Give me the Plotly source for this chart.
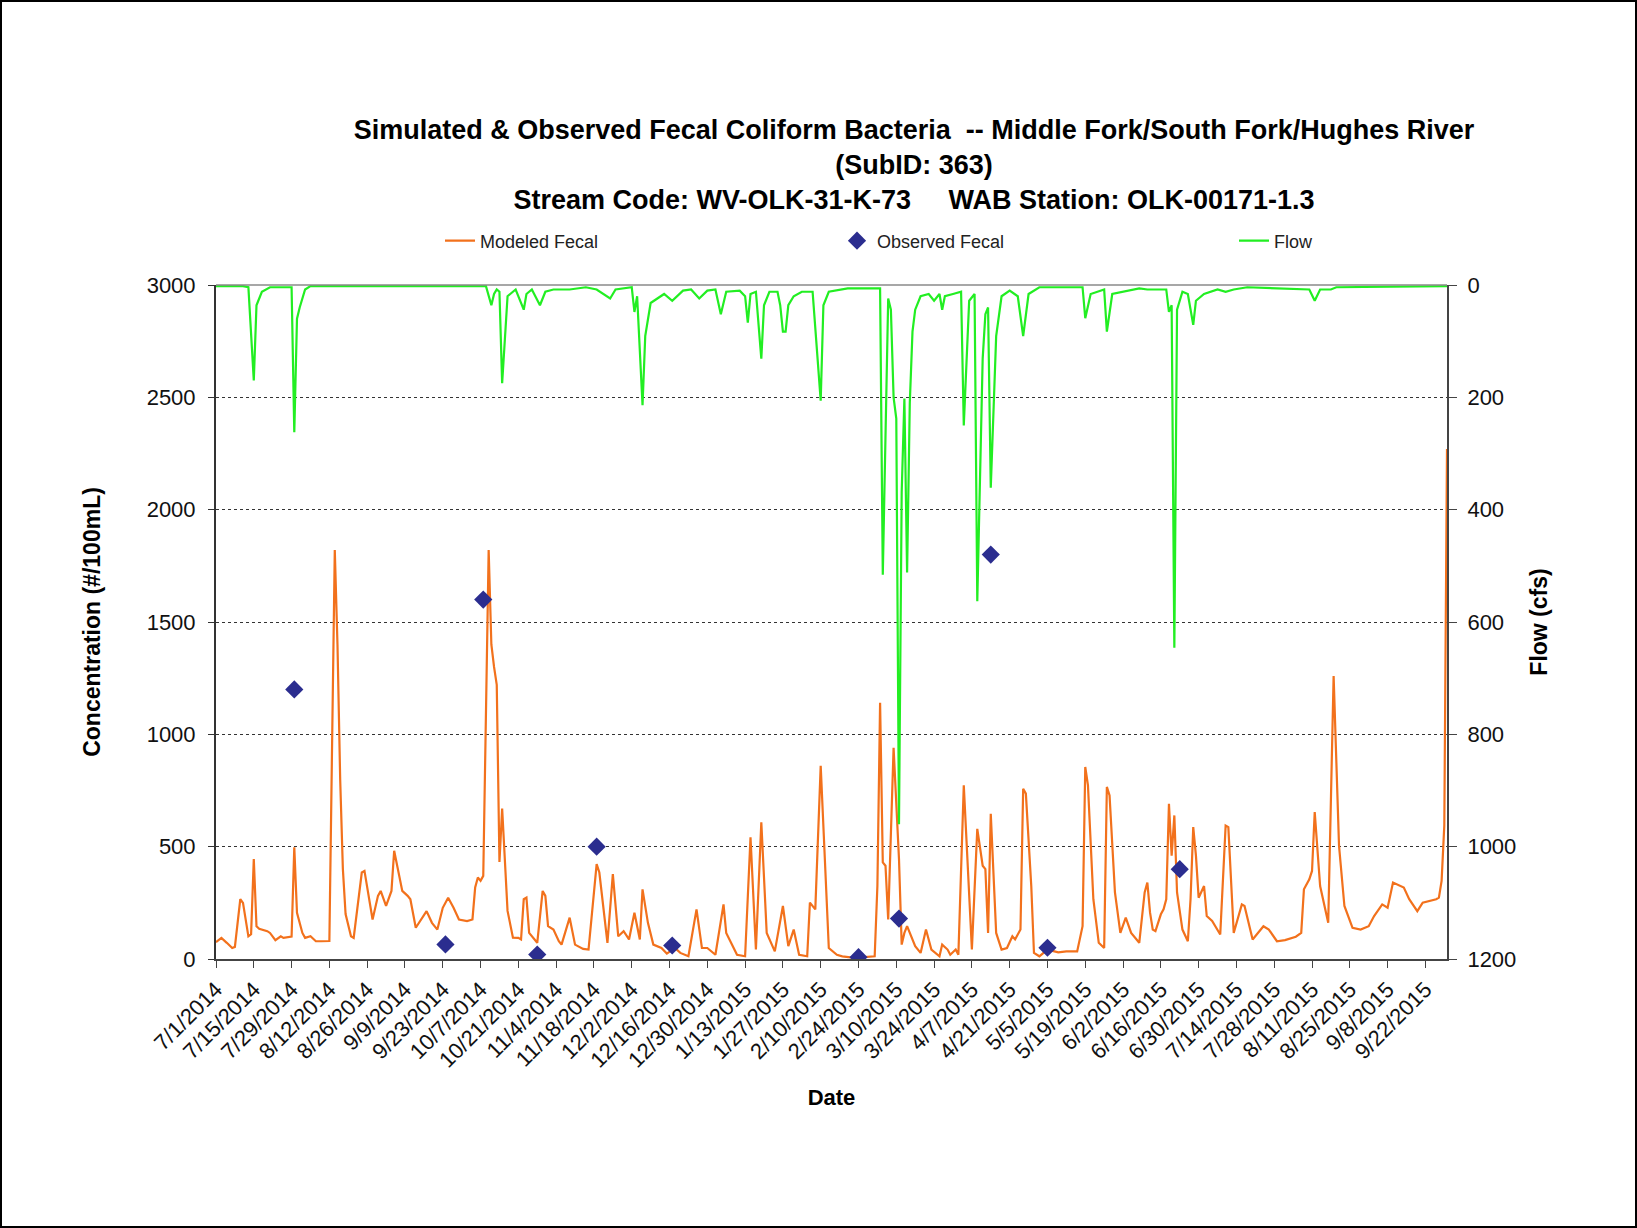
import pandas as pd
import plotly.graph_objects as go

START = pd.Timestamp("2014-07-01")

# Modeled fecal coliform (#/100mL); days counted from 7/1/2014
fecal_day = [
    0, 2, 4, 6, 7, 9, 10, 12, 13, 14,
    15, 16, 19, 20, 22, 24, 25, 27, 28, 29,
    30, 32, 33, 35, 37, 39, 42, 44, 45, 46,
    47, 48, 50, 51, 54, 55, 58, 60, 61, 63,
    65, 66, 69, 71, 72, 74, 78, 80, 82, 84,
    86, 88, 90, 93, 95, 96, 97, 98, 99, 101,
    102, 103, 104, 105, 106, 108, 110, 112, 113, 114,
    115, 116, 118, 119, 121, 122, 123, 125, 127, 128,
    131, 133, 136, 138, 141, 142, 145, 147, 149, 151,
    153, 155, 157, 158, 160, 162, 165, 167, 170, 172,
    175, 176, 178, 180, 182, 185, 188, 189, 193, 196,
    198, 200, 202, 204, 207, 210, 212, 214, 216, 219,
    220, 222, 224, 227, 230, 232, 235, 239, 244, 245,
    246, 247, 248, 249, 251, 253, 254, 255, 256, 259,
    261, 263, 265, 268, 269, 271, 272, 274, 275, 277,
    279, 280, 282, 284, 285, 286, 287, 289, 291, 293,
    295, 296, 298, 299, 300, 302, 303, 305, 308, 312,
    315, 319, 321, 322, 323, 325, 327, 329, 330, 331,
    333, 335, 337, 339, 342, 344, 345, 346, 347, 348,
    350, 351, 352, 353, 354, 355, 356, 358, 360, 361,
    362, 363, 364, 366, 367, 369, 372, 374, 375, 377,
    380, 381, 384, 388, 390, 393, 396, 400, 402, 403,
    405, 406, 407, 409, 412, 414, 416, 418, 421, 424,
    427, 429, 432, 434, 436, 440, 442, 445, 447, 450,
    452, 453, 454, 455, 456,
]
fecal_value = [
    75, 94, 72, 49, 54, 266, 250, 101, 110, 445,
    146, 134, 124, 116, 84, 101, 94, 99, 100, 497,
    206, 116, 94, 101, 79, 79, 80, 1820, 1400, 800,
    400, 200, 101, 94, 385, 392, 176, 281, 303, 236,
    303, 482, 303, 281, 266, 139, 213, 161, 131, 228,
    273, 228, 176, 169, 176, 318, 363, 348, 370, 1820,
    1400, 1300, 1220, 432, 670, 214, 95, 94, 87, 266,
    273, 116, 87, 72, 303, 281, 146, 131, 79, 64,
    184, 64, 45, 42, 422, 385, 72, 378, 101, 124,
    87, 206, 87, 310, 161, 64, 49, 24, 49, 27,
    12, 87, 221, 49, 49, 19, 243, 116, 19, 12,
    542, 42, 609, 116, 34, 236, 57, 131, 19, 12,
    251, 221, 860, 49, 19, 12, 7, 7, 12, 325,
    1140, 430, 415, 176, 940, 445, 64, 116, 146, 57,
    27, 131, 42, 12, 64, 42, 19, 42, 19, 773,
    266, 42, 579, 415, 400, 116, 646, 116, 42, 49,
    101, 87, 131, 758, 736, 325, 27, 12, 42, 30,
    34, 34, 146, 855, 773, 266, 72, 49, 766, 728,
    296, 116, 184, 116, 72, 296, 340, 206, 131, 124,
    199, 221, 266, 691, 460, 639, 296, 131, 79, 266,
    587, 460, 273, 325, 191, 169, 109, 594, 587, 116,
    243, 236, 87, 146, 131, 79, 84, 99, 116, 310,
    355, 392, 654, 325, 161, 1260, 504, 236, 139, 131,
    146, 191, 243, 228, 340, 318, 266, 213, 251, 258,
    266, 273, 348, 594, 2270,
]

# Observed fecal coliform samples
obs_day = [29, 85, 99, 119, 141, 169, 238, 253, 287, 308, 357]
obs_value = [1200, 65, 1600, 20, 500, 60, 8, 180, 1800, 50, 400]

# Flow (cfs)
flow_day = [
    0, 10, 12, 14, 15, 17, 20, 27, 28, 29,
    30, 31, 33, 35, 60, 100, 102, 103, 104, 105,
    106, 108, 111, 114, 115, 117, 120, 122, 125, 131,
    137, 141, 146, 148, 154, 155, 156, 158, 159, 161,
    166, 169, 173, 176, 179, 182, 185, 187, 189, 194,
    196, 197, 198, 200, 202, 203, 205, 208, 209, 210,
    211, 212, 214, 217, 221, 224, 225, 227, 234, 246,
    247, 249, 250, 251, 252, 253, 254, 255, 256, 257,
    258, 259, 261, 264, 266, 268, 269, 270, 273, 276,
    277, 279, 281, 282, 284, 285, 286, 287, 289, 291,
    294, 297, 299, 301, 305, 317, 321, 322, 324, 329,
    330, 332, 342, 345, 352, 353, 354, 355, 356, 358,
    360, 362, 363, 366, 371, 374, 377, 382, 405, 407,
    409, 413, 415, 456,
]
flow_value = [
    2, 2, 4, 170, 36, 12, 4, 3, 4, 262,
    60, 40, 8, 2, 2, 2, 36, 16, 8, 12,
    175, 20, 8, 44, 16, 8, 36, 12, 8, 8,
    4, 8, 24, 8, 4, 48, 20, 214, 91, 32,
    16, 28, 10, 8, 24, 10, 8, 52, 12, 10,
    20, 67, 16, 12, 131, 36, 12, 12, 36, 83,
    83, 36, 20, 12, 12, 206, 36, 12, 6, 6,
    516, 24, 44, 200, 238, 960, 369, 202, 512, 210,
    83, 44, 20, 16, 28, 16, 44, 20, 16, 12,
    250, 28, 16, 563, 131, 52, 40, 361, 91, 20,
    10, 20, 91, 16, 4, 4, 4, 59, 16, 8,
    83, 16, 6, 8, 8, 48, 36, 646, 44, 12,
    16, 71, 28, 16, 8, 12, 8, 4, 8, 28,
    8, 8, 4, 2,
]


def to_dates(days):
    return START + pd.to_timedelta(days, unit="D")


FONT = "Liberation Sans, Arial, sans-serif"

# Layout geometry (pixels)
W, H = 1637, 1228
ML, MR, MT, MB = 216, 190, 285, 269
PW, PH = W - ML - MR, H - MT - MB

fig = go.Figure()
fig.add_trace(go.Scatter(
    x=to_dates(fecal_day), y=fecal_value, name="Modeled Fecal",
    mode="lines", line=dict(color="#F2711C", width=2.2), yaxis="y",
))
fig.add_trace(go.Scatter(
    x=to_dates(obs_day), y=obs_value, name="Observed Fecal",
    mode="markers", marker=dict(symbol="diamond", size=14, color="#2B2D8F"),
    yaxis="y",
))
fig.add_trace(go.Scatter(
    x=to_dates(flow_day), y=flow_value, name="Flow",
    mode="lines", line=dict(color="#22EE22", width=2.2), yaxis="y2",
))


def px_x(p):
    return (p - ML) / PW


def px_y(p):
    return (H - MB - p) / PH


fig.update_layout(
    width=W, height=H,
    margin=dict(l=ML, r=MR, t=MT, b=MB, autoexpand=False),
    paper_bgcolor="white", plot_bgcolor="white",
    font=dict(family=FONT, color="#111111"),
    title=dict(
        text=("<b>Simulated & Observed Fecal Coliform Bacteria&nbsp;&nbsp;-- Middle Fork/South Fork/Hughes River</b>"
              "<br><b>(SubID: 363)</b>"
              "<br><b>Stream Code: WV-OLK-31-K-73&nbsp;&nbsp;&nbsp;&nbsp;&nbsp;WAB Station: OLK-00171-1.3</b>"),
        font=dict(family=FONT, size=27, color="#000000"),
        x=914 / W, xref="container", xanchor="center",
        y=1 - 139 / H, yref="container", yanchor="middle",
    ),
    legend=dict(
        orientation="h", x=px_x(440), xanchor="left", y=px_y(241), yanchor="middle",
        entrywidth=352, entrywidthmode="pixels",
        font=dict(family=FONT, size=18, color="#222222"),
        bgcolor="rgba(0,0,0,0)",
    ),
    xaxis=dict(
        type="date",
        range=[START, START + pd.Timedelta(days=456)],
        tick0=START, dtick=14 * 86400000,
        tickformat="%-m/%-d/%Y", tickangle=-45,
        tickfont=dict(family=FONT, size=22, color="#111111"),
        ticks="outside", ticklen=7, tickcolor="#444444",
        showline=True, linecolor="#444444", linewidth=2,
        showgrid=False, zeroline=False,
        title=dict(text="<b>Date</b>", font=dict(family=FONT, size=22, color="#000000"), standoff=18),
    ),
    yaxis=dict(
        range=[0, 3000], dtick=500,
        tickfont=dict(family=FONT, size=22, color="#111111"),
        ticks="outside", ticklen=6, tickcolor="#333333",
        showline=True, linecolor="#333333", linewidth=2,
        showgrid=True, gridcolor="#333333", griddash="dot", gridwidth=1,
        zeroline=False, ticklabelstandoff=8,
        title=dict(text="<b>Concentration (#/100mL)</b>", font=dict(family=FONT, size=23, color="#000000"), standoff=40),
    ),
    yaxis2=dict(
        range=[1200, 0], dtick=200, overlaying="y", side="right",
        tickfont=dict(family=FONT, size=22, color="#111111"),
        ticks="outside", ticklen=8, tickcolor="#444444",
        showline=True, linecolor="#444444", linewidth=2,
        showgrid=False, zeroline=False, ticklabelstandoff=6,
        title=dict(text="<b>Flow (cfs)</b>", font=dict(family=FONT, size=23, color="#000000"), standoff=16),
    ),
    shapes=[
        # top edge of the plot area
        dict(type="line", xref="paper", yref="paper", x0=0, x1=1, y0=1, y1=1,
             line=dict(color="#8a8a8a", width=1.5)),
        # outer frame of the picture
        dict(type="rect", xref="paper", yref="paper",
             x0=px_x(1), x1=px_x(W - 1), y0=px_y(H - 1), y1=px_y(1),
             line=dict(color="#000000", width=2)),
    ],
)

fig.write_html("out.html")
